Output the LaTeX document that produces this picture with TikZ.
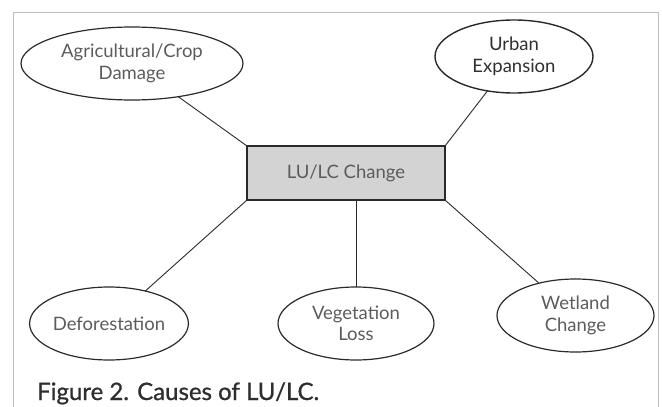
\documentclass[tikz,border=0pt]{standalone}
\usepackage{fontspec}
\setmainfont{Lato}
\usetikzlibrary{shapes.geometric}
\definecolor{framegray}{HTML}{BDBDBD}
\definecolor{boxgray}{HTML}{D3D3D3}
\definecolor{linecol}{HTML}{2A2A2A}
\definecolor{txtgray}{HTML}{5C5C5C}
\definecolor{urbtxt}{HTML}{303030}
\definecolor{captxt}{HTML}{2E2E2E}
\begin{document}
\begin{tikzpicture}[x=1pt,y=-1pt,
  cause/.style={ellipse,draw=linecol,line width=1.2pt,inner sep=0pt,outer sep=0pt,align=center,
    text=txtgray,font=\fontsize{18.5}{21.5}\selectfont},
  link/.style={draw=linecol,line width=0.9pt}]
\useasboundingbox (0,0) rectangle (662,407);
\draw[framegray,line width=1pt] (13,407) -- (13,12) -- (658,12) -- (658,407);
\node[draw=linecol,line width=1.2pt,fill=boxgray,minimum width=198pt,minimum height=54pt,
  inner sep=0pt,outer sep=0pt,text=txtgray,font=\fontsize{18.5}{21.5}\selectfont] (lu) at (346,173) {LU/LC Change};
\node[cause,minimum width=222pt,minimum height=73pt] (agri) at (132,63.5) {Agricultural/Crop\\Damage};
\node[cause,minimum width=158pt,minimum height=73pt,text=urbtxt,line width=1.4pt] (urban) at (514,56.5) {Urban\\Expansion};
\node[cause,minimum width=158pt,minimum height=73pt] (defo) at (109,323.5) {Deforestation};
\node[cause,minimum width=156pt,minimum height=73pt] (veg) at (356,323.5) {Vegetation\\Loss};
\node[cause,minimum width=157pt,minimum height=73pt] (wet) at (575.5,315.5) {Wetland\\Change};
\draw[link] (agri) -- (lu.north west);
\draw[link] (urban) -- (lu.north east);
\draw[link] (defo) -- (lu.south west);
\draw[link] (veg) -- (veg |- lu.south);
\draw[link] (wet) -- (lu.south east);
\node[anchor=base west,text=captxt,font=\fontsize{24}{27}\selectfont\addfontfeatures{FakeBold=0.8},inner sep=0pt] (cap) at (37,400) {Figure 2. Causes of LU/LC.};
\end{tikzpicture}
\end{document}
